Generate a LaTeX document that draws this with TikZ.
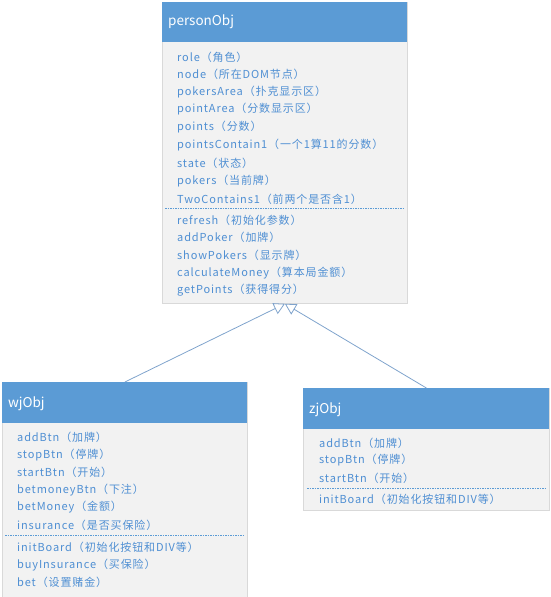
\documentclass[tikz,border=0pt]{standalone}
\usepackage{fontspec}
\setmainfont{Noto Sans CJK SC}
\newfontfamily\itemfont[LetterSpace=8]{Noto Sans CJK SC}
\usetikzlibrary{arrows.meta}
\definecolor{hdrblue}{HTML}{5B9BD5}
\definecolor{bodygray}{HTML}{F2F2F2}
\definecolor{bordergray}{HTML}{D9D9D9}
\definecolor{txtblue}{HTML}{4F8FD3}
\definecolor{linkblue}{HTML}{7FA3CC}
\tikzset{
  classbox/.style={draw=bordergray, fill=bodygray, line width=0.8pt, anchor=north west, inner sep=0pt},
  hdr/.style={fill=hdrblue, draw=none, anchor=north west, inner sep=0pt},
  title/.style={anchor=west, inner sep=0pt, text=white, font=\fontsize{13.5}{15}\selectfont},
  item/.style={anchor=west, inner sep=0pt, text=txtblue, font=\itemfont\fontsize{11}{12}\selectfont},
  sep/.style={draw=hdrblue, line width=0.8pt, dash pattern=on 1.5pt off 1pt},
  inherit/.style={draw=linkblue, line width=0.8pt, -{Triangle[open, length=11pt, width=12pt]}}
}
\begin{document}
\begin{tikzpicture}[x=1pt, y=-1pt]
\useasboundingbox (0,0) rectangle (551,597);
\begin{scope}
\clip (0,0) rectangle (551,597);
% personObj
\node[classbox, minimum width=245pt, minimum height=301pt] (person) at (162,2) {};
\node[hdr, minimum width=245pt, minimum height=40pt] (personH) at (162,2) {};
\node[title] (personT) at (168,22) {personObj};
\node[item] (p1) at (177,57) {role（角色）};
\node[item] (p2) at (177,74.5) {node（所在DOM节点）};
\node[item] (p3) at (177,92) {pokersArea（扑克显示区）};
\node[item] (p4) at (177,109.5) {pointArea（分数显示区）};
\node[item] (p5) at (177,127.5) {points（分数）};
\node[item] (p6) at (177,145) {pointsContain1（一个1算11的分数）};
\node[item] (p7) at (177,163) {state（状态）};
\node[item] (p8) at (177,181) {pokers（当前牌）};
\node[item] (p9) at (177,199) {TwoContains1（前两个是否含1）};
\coordinate (psepA) at (165,208.5);
\coordinate (psepB) at (403,208.5);
\draw[sep] (psepA) -- (psepB);
\node[item] (p10) at (177,220) {refresh（初始化参数）};
\node[item] (p11) at (177,237.5) {addPoker（加牌）};
\node[item] (p12) at (177,255) {showPokers（显示牌）};
\node[item] (p13) at (177,273) {calculateMoney（算本局金额）};
\node[item] (p14) at (177,290.5) {getPoints（获得得分）};
% wjObj
\node[classbox, minimum width=245pt, minimum height=230pt] (wj) at (2,382) {};
\node[hdr, minimum width=245pt, minimum height=41pt] (wjH) at (2,382) {};
\node[title] (wjT) at (8,403.5) {wjObj};
\node[item] (w1) at (17,437) {addBtn（加牌）};
\node[item] (w2) at (17,455) {stopBtn（停牌）};
\node[item] (w3) at (17,472.5) {startBtn（开始）};
\node[item] (w4) at (17,490) {betmoneyBtn（下注）};
\node[item] (w5) at (17,507.5) {betMoney（金额）};
\node[item] (w6) at (17,525.5) {insurance（是否买保险）};
\coordinate (wsepA) at (5,535);
\coordinate (wsepB) at (243,535);
\draw[sep] (wsepA) -- (wsepB);
\node[item] (w7) at (17,547) {initBoard（初始化按钮和DIV等）};
\node[item] (w8) at (17,565) {buyInsurance（买保险）};
\node[item] (w9) at (17,582) {bet（设置赌金）};
% zjObj
\node[classbox, minimum width=246pt, minimum height=122pt] (zj) at (303,388) {};
\node[hdr, minimum width=246pt, minimum height=41pt] (zjH) at (303,388) {};
\node[title] (zjT) at (309,409.5) {zjObj};
\node[item] (z1) at (319,443) {addBtn（加牌）};
\node[item] (z2) at (319,460.5) {stopBtn（停牌）};
\node[item] (z3) at (319,478) {startBtn（开始）};
\coordinate (zsepA) at (307,488);
\coordinate (zsepB) at (545,488);
\draw[sep] (zsepA) -- (zsepB);
\node[item] (z4) at (319,499.5) {initBoard（初始化按钮和DIV等）};
\end{scope}
% inheritance
\draw[inherit] (wj.north) -- (person.south);
\draw[inherit] (zj.north) -- (person.south);
\end{tikzpicture}
\end{document}
